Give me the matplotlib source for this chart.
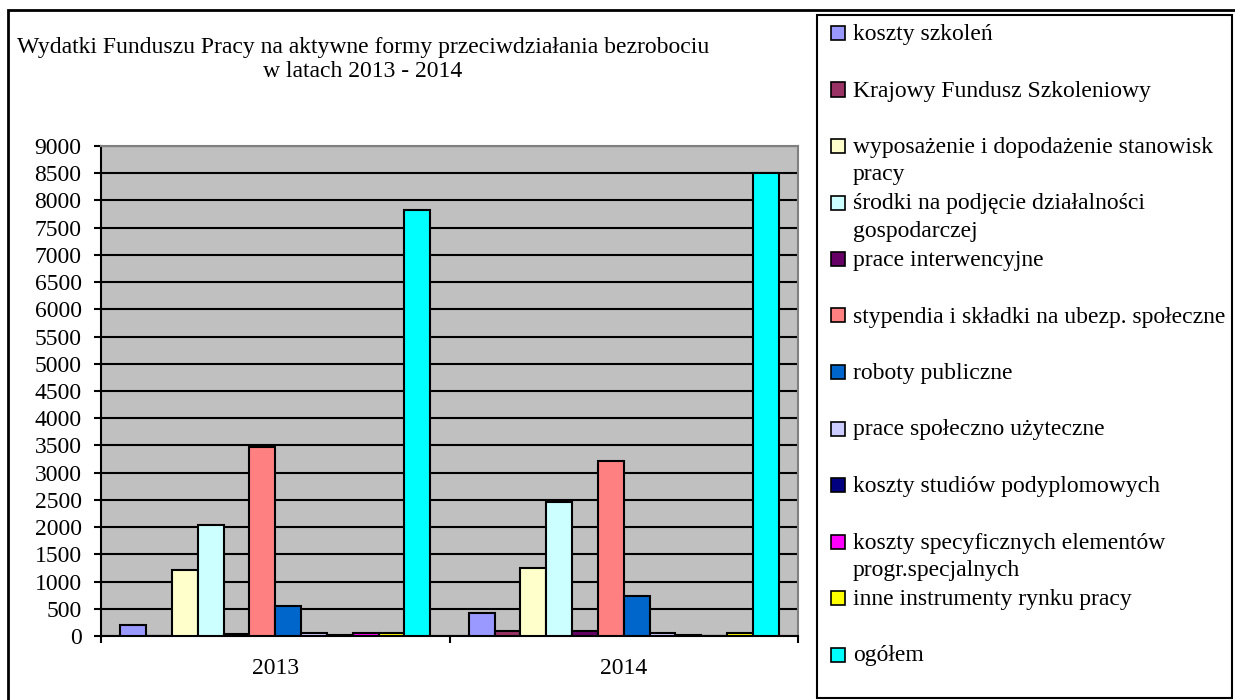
import matplotlib.pyplot as plt
from matplotlib.patches import Rectangle
import numpy as np

plt.rcParams['font.family'] = ['Liberation Serif', 'DejaVu Serif']

years = ['2013', '2014']
series = ['koszty szkoleń', 'Krajowy Fundusz Szkoleniowy',
          'wyposażenie i dopodażenie stanowisk\npracy',
          'środki na podjęcie działalności\ngospodarczej',
          'prace interwencyjne', 'stypendia i składki na ubezp. społeczne',
          'roboty publiczne', 'prace społeczno użyteczne',
          'koszty studiów podyplomowych',
          'koszty specyficznych elementów\nprogr.specjalnych',
          'inne instrumenty rynku pracy', 'ogółem']
values_2013 = [205, 0, 1205, 2030, 30, 3465, 560, 60, 15, 60, 60, 7820]
values_2014 = [415, 95, 1240, 2460, 95, 3215, 740, 55, 25, 0, 55, 8500]
colors = ['#9999FF', '#993366', '#FFFFCC', '#CCFFFF', '#660066', '#FF8080',
          '#0066CC', '#CCCCFF', '#000080', '#FF00FF', '#FFFF00', '#00FFFF']

W, H = 1235, 700
FS = 17
fig = plt.figure(figsize=(12.35, 7), dpi=100)

# ramka wykresu i ramka legendy (współrzędne w pikselach)
def px_rect(x0, y0, x1, y1, lw):
    fig.patches.append(Rectangle((x0 / W, 1 - y1 / H), (x1 - x0) / W, (y1 - y0) / H,
                                 transform=fig.transFigure, fill=False,
                                 edgecolor='black', linewidth=lw))

px_rect(8, 10, 1245, 720, 2)
px_rect(817, 15, 1232, 698, 1.5)

ax = fig.add_axes([101 / W, 1 - 636 / H, 697 / W, 490 / H])
ax.set_facecolor('#C0C0C0')

w = 1 / 13.5
x = np.arange(len(years))
for j, name in enumerate(series):
    vals = [values_2013[j], values_2014[j]]
    ax.bar(x + (j - 5.5) * w, vals, width=w, color=colors[j],
           edgecolor='black', linewidth=1.5, zorder=3)

ax.set_xlim(-0.5, 1.5)
ax.set_ylim(0, 9000)
ax.set_yticks(np.arange(0, 9001, 500))
ax.yaxis.grid(True, color='black', linewidth=1.5, zorder=0)
ax.set_axisbelow(True)
ax.set_xticks(x)
ax.set_xticklabels(years)
ax.set_xticks([-0.5, 0.5, 1.5], minor=True)
ax.tick_params(axis='x', which='major', length=0, pad=16, labelsize=FS)
ax.tick_params(axis='x', which='minor', length=5, width=1.5, direction='out')
ax.tick_params(axis='y', length=5, width=1.5, direction='out', labelsize=FS, pad=9)
for s in ['top', 'right']:
    ax.spines[s].set_color('#808080')
    ax.spines[s].set_linewidth(1.5)
for s in ['left', 'bottom']:
    ax.spines[s].set_linewidth(1.5)

fig.text(363 / W, 1 - 59.5 / H,
         'Wydatki Funduszu Pracy na aktywne formy przeciwdziałania bezrobociu\nw latach 2013 - 2014',
         ha='center', va='center', fontsize=FS, linespacing=1.2)

# legenda
for j, name in enumerate(series):
    yc = 33 + j * 56.5
    fig.patches.append(Rectangle((831 / W, 1 - (yc + 7) / H), 14 / W, 14 / H,
                                 transform=fig.transFigure, facecolor=colors[j],
                                 edgecolor='black', linewidth=1.2))
    fig.text(853 / W, 1 - (yc - 9) / H, name, ha='left', va='top',
             fontsize=FS, linespacing=1.4)

plt.savefig('out.png', dpi=100)
